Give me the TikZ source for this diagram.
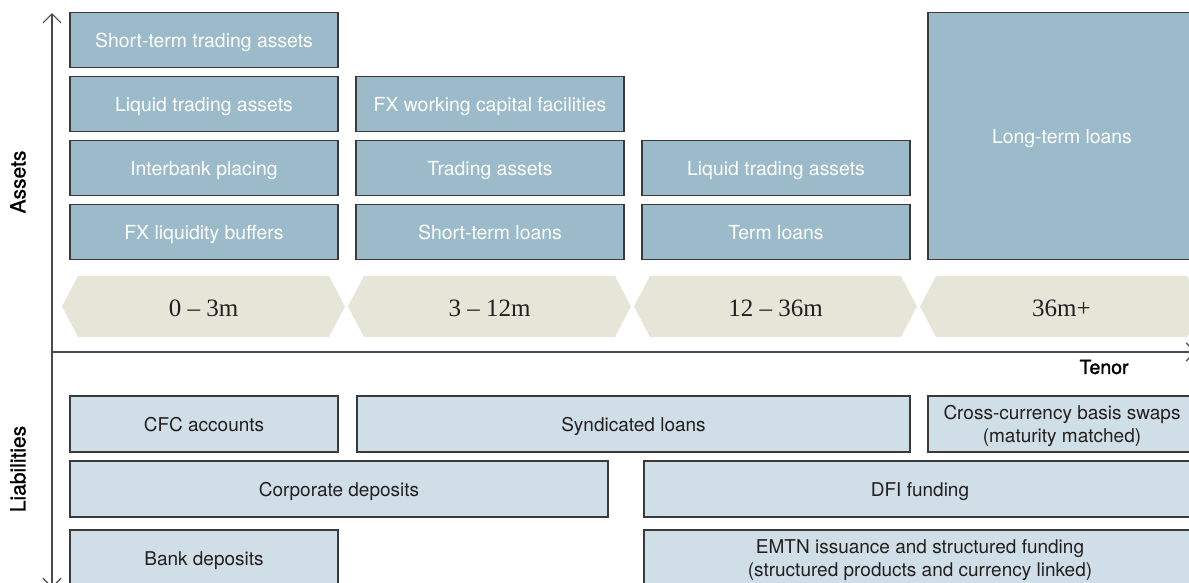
\documentclass[tikz,border=0pt]{standalone}
\usepackage{fontspec}
\setmainfont{TeX Gyre Heros}
\newfontfamily\numfont{Liberation Serif}
\newfontfamily\medfont[FakeBold=1.2]{TeX Gyre Heros}
\usetikzlibrary{arrows.meta}
\definecolor{assetfill}{HTML}{9BBACA}
\definecolor{liabfill}{HTML}{CFDEE7}
\definecolor{chevfill}{HTML}{E6E6D8}
\definecolor{edge}{HTML}{3A3A3A}
\definecolor{axisgray}{HTML}{4A4A4A}
\definecolor{txt}{HTML}{231F20}
\tikzset{
  assetbox/.style={draw=edge, line width=1.1pt, fill=assetfill, text=white,
    minimum height=55.5pt, inner sep=0pt, text height=14pt, text depth=0pt,
    font=\fontsize{19.4}{22}\selectfont},
  liabbox/.style={draw=edge, line width=1.1pt, fill=liabfill, text=txt,
    minimum height=56pt, inner sep=0pt, align=center, text height=14pt, text depth=0pt,
    font=\fontsize{19}{22.5}\selectfont},
  twoline/.style={text height=36.5pt, text depth=0pt},
  chevlabel/.style={text=txt, inner sep=0pt, text height=17pt, text depth=0pt,
    font=\numfont\fontsize{25}{30}\selectfont},
  axislabel/.style={text=black, inner sep=0pt, font=\medfont\fontsize{21}{24}\selectfont},
  axisline/.style={draw=axisgray, line width=1.2pt},
  barb/.tip={Straight Barb[length=9pt,width=18pt]}
}
\begin{document}
\begin{tikzpicture}[x=1pt,y=-1pt]
\useasboundingbox (0,0) rectangle (1189,582);
% axes
\coordinate (vtop) at (52,13);
\coordinate (vbot) at (52,588);
\coordinate (horig) at (52,352);
\coordinate (hend) at (1196,352);
\draw[axisline, barb-barb] (vbot) -- (vtop);
\draw[axisline, -barb] (horig) -- (hend);
\node[axislabel, rotate=90] (lassets) at (18,182) {Assets};
\node[axislabel, rotate=90] (lliab) at (18,469) {Liabilities};
\node[axislabel, font=\medfont\fontsize{19.5}{22}\selectfont] (ltenor) at (1104,367) {Tenor};
% assets
\node[assetbox, minimum width=268pt] (a11) at (204,40) {Short-term trading assets};
\node[assetbox, minimum width=268pt] (a12) at (204,104) {Liquid trading assets};
\node[assetbox, minimum width=268pt] (a13) at (204,168) {Interbank placing};
\node[assetbox, minimum width=268pt] (a14) at (204,232) {FX liquidity buffers};
\node[assetbox, minimum width=268pt] (a22) at (490,104) {FX working capital facilities};
\node[assetbox, minimum width=268pt] (a23) at (490,168) {Trading assets};
\node[assetbox, minimum width=268pt] (a24) at (490,232) {Short-term loans};
\node[assetbox, minimum width=268pt] (a33) at (776,168) {Liquid trading assets};
\node[assetbox, minimum width=268pt] (a34) at (776,232) {Term loans};
\node[assetbox, minimum width=268pt, minimum height=246.5pt] (a4) at (1062,136) {Long-term loans};
% tenor chevrons
\foreach \i/\lab in {0/{0 – 3m},1/{3 – 12m},2/{12 – 36m},3/{36m+}}{
  \pgfmathsetmacro{\L}{62+286*\i}
  \pgfmathsetmacro{\R}{345+286*\i}
  \fill[chevfill] (\L,306.5) -- (\L+16,276) -- (\R-16,276) -- (\R,306.5) -- (\R-16,337) -- (\L+16,337) -- cycle;
  \node[chevlabel] (chev\i) at ({(\L+\R)/2},307.5) {\lab};
}
% liabilities
\node[liabbox, minimum width=268pt] (cfc) at (204,424) {CFC accounts};
\node[liabbox, minimum width=553pt] (synd) at (633.5,424) {Syndicated loans};
\node[liabbox, twoline, minimum width=268pt] (ccbs) at (1062,424) {Cross-currency basis swaps\\(maturity matched)};
\node[liabbox, minimum width=538pt] (corp) at (339,489) {Corporate deposits};
\node[liabbox, minimum width=552pt] (dfi) at (920,489) {DFI funding};
\node[liabbox, minimum width=268pt] (bank) at (204,558) {Bank deposits};
\node[liabbox, twoline, minimum width=552pt] (emtn) at (920,558) {EMTN issuance and structured funding\\(structured products and currency linked)};
\end{tikzpicture}
\end{document}
